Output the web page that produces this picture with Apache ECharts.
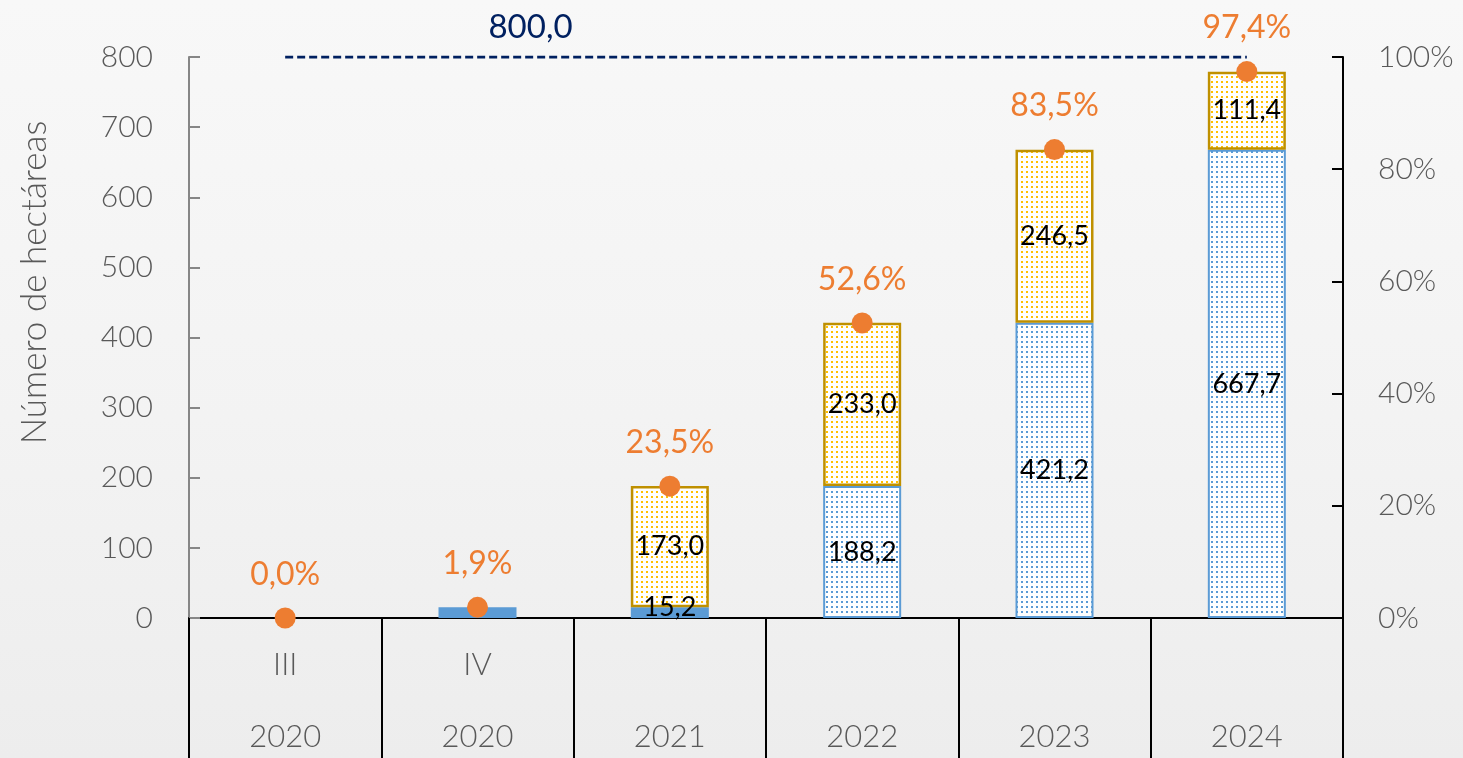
<!DOCTYPE html>
<html lang="es">
<head>
<meta charset="utf-8">
<title>Número de hectáreas</title>
<script src="https://cdn.jsdelivr.net/npm/echarts@6/dist/echarts.min.js"></script>
<style>
  html, body { margin: 0; padding: 0; }
  body { width: 1463px; height: 758px; overflow: hidden;
         background: linear-gradient(180deg, #f8f8f8 0%, #f3f3f3 55%, #ededed 100%); }
  #chart { width: 1463px; height: 758px; }
</style>
</head>
<body>
<div id="chart"></div>
<script>
// Periods (sub-label) and years of each column
const periods = ['III', 'IV', '', '', '', ''];
const years = ['2020', '2020', '2021', '2022', '2023', '2024'];

// Hectares: accumulated from previous periods (blue) and added in the period (yellow)
const accumulated = [0, 15.2, 15.2, 188.2, 421.2, 667.7];
const added = [0, 0, 173.0, 233.0, 246.5, 111.4];

// Progress towards the goal, in percent
const progress = [0.0, 1.9, 23.5, 52.6, 83.5, 97.4];

// Goal in hectares
const goal = 800;

// Axis tick settings
const leftMax = 800, leftStep = 100;
const rightMax = 1, rightStep = 0.2;

const categories = years.map((y, i) => periods[i] + '|' + y);
const fmt = v => v.toFixed(1).replace('.', ',');

// Dotted fill used for the bars
function dotPattern(dot) {
  const c = document.createElement('canvas');
  c.width = 5; c.height = 5;
  const g = c.getContext('2d');
  g.fillStyle = '#ffffff';
  g.fillRect(0, 0, 5, 5);
  g.fillStyle = dot;
  g.fillRect(1, 1, 2, 2);
  return { image: c, repeat: 'repeat' };
}

const BLUE = '#5b9bd5';
const YELLOW = '#ffc000';
const GOLD = '#bf9000';
const ORANGE = '#ed7d31';
const GREY = '#595959';
const NAVY = '#002060';
const FONT = 'Lato, "Open Sans", sans-serif';

const blueData = accumulated.map((v, i) => {
  const patterned = Number(years[i]) >= 2022;
  return {
    value: v,
    itemStyle: patterned
      ? { color: dotPattern(BLUE), borderColor: BLUE, borderWidth: 2 }
      : { color: BLUE, borderWidth: 0 },
    label: { show: added[i] > 0, offset: patterned ? [0, 0] : [0, -5] }
  };
});

const yellowData = added.map(v => ({
  value: v,
  itemStyle: v > 0
    ? { color: dotPattern(YELLOW), borderColor: GOLD, borderWidth: 2.5 }
    : { color: 'transparent', borderWidth: 0 },
  label: { show: v > 0 }
}));

const goalData = categories.map((c, i) => ({
  value: goal,
  label: i === 1
    ? { show: true, position: 'top', distance: 13, offset: [53, 0],
        formatter: () => fmt(goal), color: NAVY, fontSize: 33,
        fontFamily: FONT, lineHeight: 32 }
    : { show: false }
}));

const barLabel = {
  show: true, position: 'inside', color: '#000000',
  fontFamily: FONT, fontSize: 27,
  formatter: p => fmt(p.value)
};

const chart = echarts.init(document.getElementById('chart'), null, { renderer: 'canvas' });

chart.setOption({
  backgroundColor: 'transparent',
  animation: false,
  grid: { left: 189, right: 120, top: 57, bottom: 140, containLabel: false, outerBoundsMode: 'none' },
  xAxis: {
    type: 'category',
    data: categories,
    boundaryGap: true,
    axisLine: { show: true, lineStyle: { color: '#000000', width: 2 } },
    axisTick: { show: true, inside: false, length: 140, alignWithLabel: false,
                lineStyle: { color: '#000000', width: 2 } },
    axisLabel: {
      margin: 11, color: GREY, fontFamily: FONT, fontWeight: 300,
      fontSize: 31, lineHeight: 72,
      formatter: v => {
        const [p, y] = v.split('|');
        return (p || ' ') + '\n' + y;
      }
    },
    splitLine: { show: false }
  },
  yAxis: [
    {
      type: 'value', min: 0, max: leftMax, interval: leftStep,
      name: 'Número de hectáreas', nameLocation: 'middle', nameGap: 137, nameRotate: 90,
      nameTextStyle: { color: GREY, fontFamily: FONT, fontWeight: 300, fontSize: 35,
                       padding: [0, 0, 0, 110] },
      axisLine: { show: true, lineStyle: { color: '#868686', width: 2 } },
      axisTick: { show: true, inside: true, length: 11, lineStyle: { color: '#868686', width: 2 } },
      axisLabel: { margin: 36, color: GREY, fontFamily: FONT, fontWeight: 300, fontSize: 30 },
      splitLine: { show: false }
    },
    {
      type: 'value', min: 0, max: rightMax, interval: rightStep, position: 'right',
      axisLine: { show: true, lineStyle: { color: '#000000', width: 2 } },
      axisTick: { show: true, inside: true, length: 11, lineStyle: { color: '#000000', width: 2 } },
      axisLabel: { margin: 35, color: GREY, fontFamily: FONT, fontWeight: 300, fontSize: 30,
                   formatter: v => Math.round(v * 100) + '%' },
      splitLine: { show: false }
    }
  ],
  series: [
    {
      name: 'Acumulado', type: 'bar', stack: 'ha', yAxisIndex: 0,
      barWidth: 78, data: blueData, label: barLabel, z: 2
    },
    {
      name: 'Periodo', type: 'bar', stack: 'ha', yAxisIndex: 0,
      barWidth: 78, data: yellowData, label: barLabel, z: 2
    },
    {
      name: 'Meta', type: 'line', yAxisIndex: 0, data: goalData,
      symbol: 'circle', symbolSize: 1, showSymbol: true,
      itemStyle: { color: 'rgba(0,0,0,0)' },
      lineStyle: { color: NAVY, width: 3, type: [8, 4] },
      z: 4
    },
    {
      name: 'Avance', type: 'scatter', yAxisIndex: 1,
      data: progress.map(v => v / 100),
      symbol: 'circle', symbolSize: 21,
      itemStyle: { color: ORANGE, opacity: 1 },
      label: {
        show: true, position: 'top', distance: 17, color: ORANGE,
        fontFamily: FONT, fontSize: 32, lineHeight: 32,
        formatter: p => fmt(p.value * 100) + '%'
      },
      z: 5
    }
  ]
});
</script>
</body>
</html>
